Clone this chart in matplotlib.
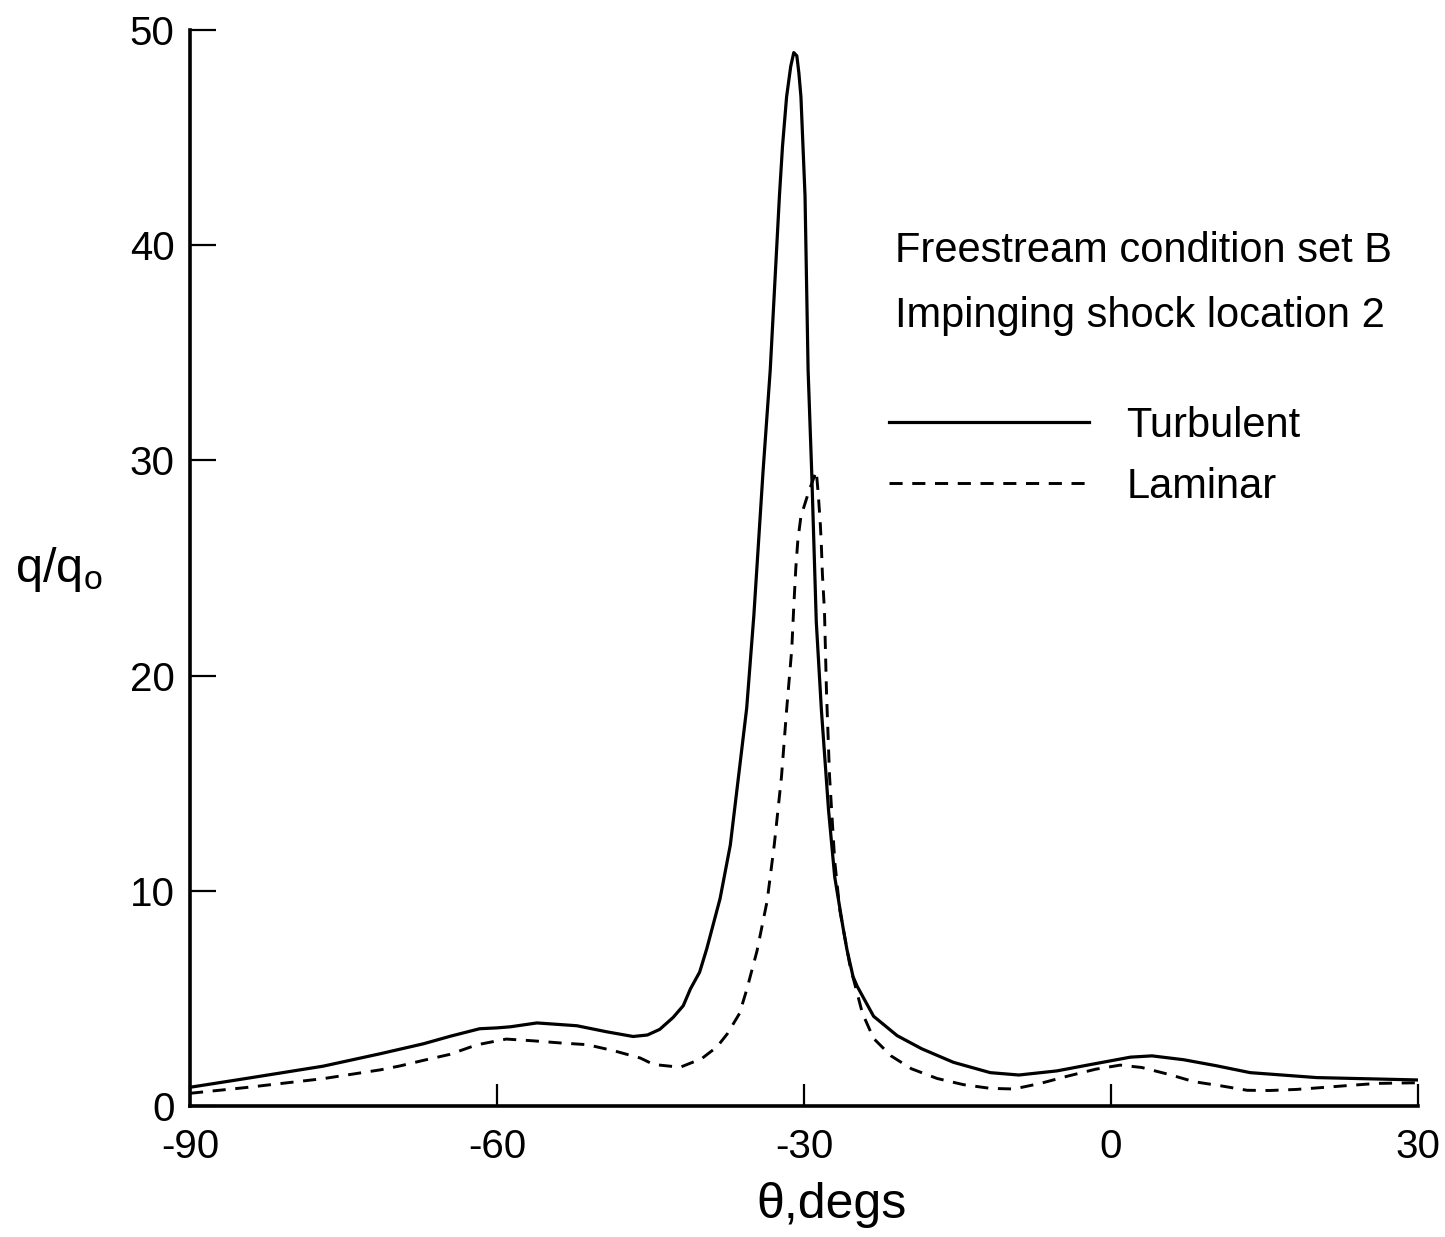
import matplotlib
matplotlib.use("Agg")
import matplotlib.pyplot as plt

# Turbulent (solid) curve
turb_theta = [-90, -84.5, -77.0, -71.4, -67.2, -64.5, -61.7, -60.0, -58.7, -56.1,
              -52.2, -49.3, -46.7, -45.3, -44.1, -42.8, -41.8, -41.1, -40.2, -39.5,
              -38.2, -37.2, -36.3, -35.6, -34.9, -34.0, -33.3, -32.4, -32.1, -31.7,
              -31.3, -31.0, -30.7, -30.5, -30.3, -30.1, -29.9, -29.6, -29.25, -28.8,
              -28.3, -27.6, -27.0, -26.2, -25.8, -25.2, -24.8, -23.2, -20.9, -18.5,
              -15.4, -11.8, -9.0, -5.3, -2.3, 1.9, 4.0, 7.1, 10.3, 13.6, 20.1, 30]
turb_q = [0.87, 1.28, 1.85, 2.43, 2.89, 3.25, 3.59, 3.63, 3.68, 3.86,
          3.73, 3.45, 3.23, 3.3, 3.56, 4.11, 4.66, 5.44, 6.22, 7.31,
          9.64, 12.13, 15.7, 18.49, 22.8, 29.5, 34.2, 42.3, 44.6, 46.9,
          48.3, 48.95, 48.8, 48.0, 46.9, 44.6, 42.3, 34.2, 29.5, 22.5,
          18.4, 13.74, 10.65, 8.33, 7.26, 6.0, 5.56, 4.17, 3.27, 2.66,
          2.03, 1.55, 1.44, 1.63, 1.9, 2.27, 2.33, 2.15, 1.87, 1.55, 1.32, 1.21]

# Laminar (dashed) curve
lam_theta = [-90, -84.5, -77.0, -71.4, -69.5, -67.2, -64.6, -62.0, -59.1, -56.5,
             -53.8, -51.2, -48.6, -46.0, -44.7, -42.1, -40.0, -38.5, -37.5, -36.3,
             -35.6, -34.6, -33.6, -32.9, -32.2, -31.7, -31.2, -31.0, -30.8, -30.6,
             -30.3, -29.5, -28.8, -28.6, -28.4, -28.3, -28.2, -28.0, -27.8, -27.5,
             -27.0, -26.5, -25.5, -24.8, -24.3, -23.2, -21.5, -19.5, -17.0, -14.4,
             -11.8, -9.5, -6.9, -4.3, -1.5, 0.9, 3.0, 5.8, 8.1, 10.7,
             13.3, 15.5, 18.1, 20.7, 23.4, 26.0, 28.6, 30]
lam_q = [0.59, 0.86, 1.27, 1.68, 1.86, 2.12, 2.40, 2.84, 3.11, 3.03,
         2.93, 2.85, 2.57, 2.23, 1.93, 1.80, 2.2, 2.75, 3.35, 4.3,
         5.4, 7.19, 9.53, 12.16, 15.3, 18.4, 21.2, 23.2, 25.0, 26.3,
         27.4, 28.6, 29.5, 28.4, 27.0, 26.0, 24.7, 23.0, 19.2, 15.3,
         11.4, 9.1, 6.5, 5.24, 4.32, 3.14, 2.33, 1.73, 1.28, 0.99,
         0.82, 0.79, 1.05, 1.38, 1.71, 1.9, 1.79, 1.45, 1.13, 0.94,
         0.73, 0.72, 0.77, 0.86, 0.96, 1.05, 1.07, 1.08]

xticks = [-90, -60, -30, 0, 30]
yticks = [0, 10, 20, 30, 40, 50]

plt.rcParams['font.family'] = ['Liberation Sans', 'DejaVu Sans']
plt.rcParams['mathtext.default'] = 'regular'
plt.rcParams['axes.unicode_minus'] = False

fig = plt.figure(figsize=(14.45, 12.37), dpi=100)
ax = fig.add_axes([190 / 1445, 1 - 1106 / 1237, 1228 / 1445, 1076 / 1237])

ax.plot(turb_theta, turb_q, color='black', lw=2.3, label='Turbulent')
ax.plot(lam_theta, lam_q, color='black', lw=2.1, linestyle=(0, (4.5, 3.3)),
        label='Laminar')

ax.set_xlim(-90, 30)
ax.set_ylim(0, 50)
ax.set_xticks(xticks)
ax.set_yticks(yticks)
for s in ['top', 'right']:
    ax.spines[s].set_visible(False)
for s in ['left', 'bottom']:
    ax.spines[s].set_linewidth(2.6)
ax.tick_params(axis='y', direction='in', length=19, width=1.6, pad=11, labelsize=29)
ax.tick_params(axis='x', direction='in', length=16, width=1.6, pad=16, labelsize=29)

ax.text(-21.1, 39.2, 'Freestream condition set B', fontsize=30, va='baseline')
ax.text(-21.1, 36.2, 'Impinging shock location 2', fontsize=30, va='baseline')

ax.legend(loc='upper left', bbox_to_anchor=(889 / 1445, 1 - 406 / 1237),
          bbox_transform=fig.transFigure, frameon=False, fontsize=30,
          handlelength=4.8, handletextpad=0.9, labelspacing=0.5,
          borderpad=0, borderaxespad=0)

fig.text(831 / 1445, 1 - 1218 / 1237, 'θ,degs', fontsize=36, ha='center', va='baseline')
fig.text(15 / 1445, 1 - 582 / 1237, '$q/q_o$', fontsize=35, ha='left', va='baseline')

fig.savefig('out.png', dpi=100)
